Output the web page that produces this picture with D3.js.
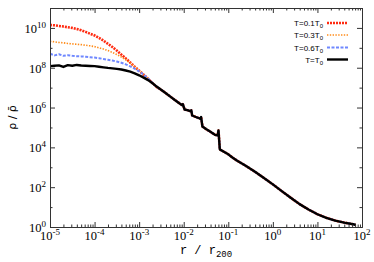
<!DOCTYPE html>
<html>
<head>
<meta charset="utf-8">
<script src="https://cdn.jsdelivr.net/npm/d3@7"></script>
<style>
  body { margin: 0; background: #fff; }
  text { fill: #000; }
</style>
</head>
<body>
<svg id="chart" width="374" height="262"></svg>
<script>
// values are log10(r / r200) and log10(rho / mean rho)
const logRInner = [-5.0, -4.9, -4.8, -4.7, -4.6, -4.5, -4.4, -4.3, -4.2, -4.1, -4.0, -3.9, -3.8,
  -3.7, -3.6, -3.5, -3.4, -3.3, -3.2, -3.1, -3.0, -2.9, -2.8, -2.7, -2.6];
const rhoT01 = [10.15, 10.13, 10.1, 10.07, 10.03, 10.0, 9.95, 9.88, 9.8, 9.71, 9.62, 9.5, 9.36,
  9.2, 9.04, 8.86, 8.66, 8.47, 8.26, 8.05, 7.85, 7.65, 7.45, 7.23, 7.02];
const rhoT03 = [9.33, 9.3, 9.27, 9.25, 9.22, 9.2, 9.18, 9.16, 9.13, 9.1, 9.06, 9.0, 8.94,
  8.86, 8.77, 8.66, 8.54, 8.4, 8.23, 8.05, 7.87, 7.67, 7.46, 7.24, 7.03];
const rhoT06 = [8.7, 8.62, 8.68, 8.6, 8.63, 8.6, 8.58, 8.57, 8.55, 8.53, 8.51, 8.48, 8.44,
  8.4, 8.36, 8.31, 8.25, 8.17, 8.07, 7.95, 7.82, 7.66, 7.46, 7.24, 7.03];
const rhoT10 = [8.08, 8.1, 8.12, 8.04, 8.13, 8.1, 8.14, 8.11, 8.1, 8.09, 8.08, 8.05, 8.02,
  7.99, 7.97, 7.94, 7.91, 7.86, 7.8, 7.72, 7.62, 7.5, 7.38, 7.22, 7.04];

// outer part, where all four runs lie on top of each other
const logROuter = [-2.5, -2.4, -2.3, -2.2, -2.1, -2.04, -2.02, -1.98, -1.9, -1.84, -1.83, -1.81,
  -1.7, -1.63, -1.61, -1.58, -1.5, -1.4, -1.3, -1.24, -1.22, -1.19, -1.1, -1.0, -0.9, -0.8,
  -0.6, -0.4, -0.2, 0.0, 0.2, 0.4, 0.6, 0.8, 1.0, 1.2, 1.4, 1.6, 1.8, 1.86];
const rhoOuter = [6.88, 6.72, 6.55, 6.38, 6.22, 6.12, 6.17, 5.9, 5.86, 5.8, 5.86, 5.6,
  5.5, 5.44, 5.52, 5.05, 4.92, 4.78, 4.63, 4.6, 4.85, 3.9, 3.78, 3.65, 3.48, 3.33,
  3.06, 2.77, 2.46, 2.14, 1.8, 1.47, 1.15, 0.88, 0.64, 0.46, 0.32, 0.22, 0.14, 0.1];

const legendLabels = ["0.1", "0.3", "0.6", ""];
const xExponents = [-5, -4, -3, -2, -1, 0, 1, 2];
const yExponents = [0, 2, 4, 6, 8, 10];
const yMinorExponents = [1, 3, 5, 7, 9];

const svg = d3.select("#chart");
const plotLeft = 50, plotRight = 362, plotTop = 8, plotBottom = 227;

const x = d3.scaleLog().domain([1e-5, 1e2]).range([plotLeft, plotRight]);
const y = d3.scaleLog().domain([1, 1e11]).range([plotBottom, plotTop]);

const styles = [
  { color: "#ff2a10", width: 2.6, dash: "2,1" },
  { color: "#ff8c1a", width: 1.6, dash: "1.4,1.4" },
  { color: "#6f88ff", width: 2, dash: "3,1.5" },
  { color: "#000", width: 2.4, dash: null }
];

const inner = [rhoT01, rhoT03, rhoT06, rhoT10];
const series = inner.map(vals => {
  const pts = logRInner.map((r, i) => [r, vals[i]]);
  return pts.concat(logROuter.map((r, i) => [r, rhoOuter[i]]));
});

svg.append("clipPath").attr("id", "clip")
  .append("rect").attr("x", plotLeft).attr("y", plotTop)
  .attr("width", plotRight - plotLeft).attr("height", plotBottom - plotTop);

const line = d3.line()
  .x(d => x(10 ** d[0]))
  .y(d => y(10 ** d[1]));

svg.append("g").attr("clip-path", "url(#clip)")
  .selectAll("path")
  .data(series)
  .join("path")
  .attr("d", line)
  .attr("fill", "none")
  .attr("stroke", (d, i) => styles[i].color)
  .attr("stroke-width", (d, i) => styles[i].width)
  .attr("stroke-dasharray", (d, i) => styles[i].dash)
  .attr("stroke-linejoin", "round");

// frame and ticks (all pointing inward)
const axisColor = "#333";
const xMajor = xExponents.map(e => 10 ** e);
const xMinor = x.ticks().filter(v => !xMajor.some(m => Math.abs(m - v) / m < 1e-9));
const yMajor = yExponents.map(e => 10 ** e);
const yMinor = yMinorExponents.map(e => 10 ** e);

function addAxis(axis, transform) {
  const g = svg.append("g").attr("transform", transform).call(axis);
  g.selectAll("text").remove();
  g.select(".domain").attr("stroke", axisColor);
  g.selectAll("line").attr("stroke", axisColor);
  return g;
}

addAxis(d3.axisBottom(x).tickValues(xMajor).tickSize(-5).tickSizeOuter(0), `translate(0,${plotBottom})`);
addAxis(d3.axisBottom(x).tickValues(xMinor).tickSize(-2.5).tickSizeOuter(0), `translate(0,${plotBottom})`);
addAxis(d3.axisTop(x).tickValues(xMajor).tickSize(-5).tickSizeOuter(0), `translate(0,${plotTop})`);
addAxis(d3.axisTop(x).tickValues(xMinor).tickSize(-2.5).tickSizeOuter(0), `translate(0,${plotTop})`);
addAxis(d3.axisLeft(y).tickValues(yMajor).tickSize(-5).tickSizeOuter(0), `translate(${plotLeft},0)`);
addAxis(d3.axisLeft(y).tickValues(yMinor).tickSize(-2.5).tickSizeOuter(0), `translate(${plotLeft},0)`);
addAxis(d3.axisRight(y).tickValues(yMajor).tickSize(-5).tickSizeOuter(0), `translate(${plotRight},0)`);
addAxis(d3.axisRight(y).tickValues(yMinor).tickSize(-2.5).tickSizeOuter(0), `translate(${plotRight},0)`);

// tick labels: 10 with superscript exponent
const serif = "'Liberation Serif', 'DejaVu Serif', serif";
function powerLabel(sel, e) {
  sel.append("tspan").text("10");
  sel.append("tspan").attr("dy", -5).attr("font-size", 9).text(e);
}

svg.append("g").selectAll("text")
  .data(xExponents)
  .join("text")
  .attr("x", e => x(10 ** e))
  .attr("y", plotBottom + 13)
  .attr("text-anchor", "middle")
  .attr("font-family", serif)
  .attr("font-size", 12.5)
  .each(function (e) { powerLabel(d3.select(this), e); });

svg.append("g").selectAll("text")
  .data(yExponents)
  .join("text")
  .attr("x", plotLeft - 4)
  .attr("y", e => y(10 ** e) + 5)
  .attr("text-anchor", "end")
  .attr("font-family", serif)
  .attr("font-size", 12.5)
  .each(function (e) { powerLabel(d3.select(this), e); });

// axis titles
const xt = svg.append("text")
  .attr("x", (plotLeft + plotRight) / 2)
  .attr("y", 254)
  .attr("text-anchor", "middle")
  .attr("font-family", "'Liberation Mono', 'DejaVu Sans Mono', monospace")
  .attr("font-size", 12);
xt.append("tspan").text("r / r");
xt.append("tspan").attr("dy", 3).attr("font-size", 9).text("200");

svg.append("text")
  .attr("transform", `translate(16,${(plotTop + plotBottom) / 2}) rotate(-90)`)
  .attr("text-anchor", "middle")
  .attr("font-family", "'DejaVu Sans', sans-serif")
  .attr("font-size", 11)
  .text("\u03C1 / \u03C1\u0304");

// legend
const legendY = [23, 35, 47.5, 59.5];
const leg = svg.append("g").selectAll("g")
  .data(legendLabels)
  .join("g")
  .attr("transform", (d, i) => `translate(0,${legendY[i]})`);

leg.append("line")
  .attr("x1", 327).attr("x2", 348)
  .attr("stroke", (d, i) => styles[i].color)
  .attr("stroke-width", (d, i) => styles[i].width)
  .attr("stroke-dasharray", (d, i) => styles[i].dash);

const lt = leg.append("text")
  .attr("x", 323)
  .attr("y", 3)
  .attr("text-anchor", "end")
  .attr("font-family", "'Liberation Sans', Arial, sans-serif")
  .attr("font-size", 8);
lt.append("tspan").text(d => "T=" + d + "T");
lt.append("tspan").attr("dy", 2).attr("font-size", 6).text("0");
</script>
</body>
</html>
